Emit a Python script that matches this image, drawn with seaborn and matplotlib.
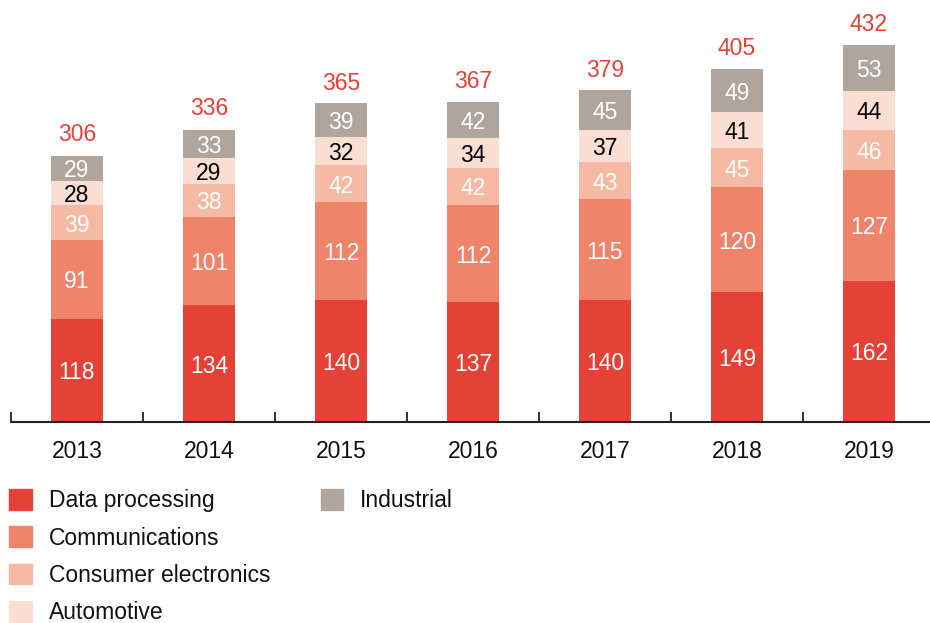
import pandas as pd
import numpy as np
import matplotlib
matplotlib.use("Agg")
import matplotlib.pyplot as plt
import seaborn as sns
from matplotlib.patches import Patch

years = ["2013", "2014", "2015", "2016", "2017", "2018", "2019"]
data_processing = [118, 134, 140, 137, 140, 149, 162]
communications = [91, 101, 112, 112, 115, 120, 127]
consumer = [39, 38, 42, 42, 43, 45, 46]
automotive = [28, 29, 32, 34, 37, 41, 44]
industrial = [29, 33, 39, 42, 45, 49, 53]
totals = [306, 336, 365, 367, 379, 405, 432]

segments = ["Data processing", "Communications", "Consumer electronics", "Automotive", "Industrial"]
colors = ["#E54237", "#EF846B", "#F6BAA4", "#FBDED3", "#AFA59C"]
text_colors = ["white", "white", "white", "black", "white"]

df = pd.DataFrame({"year": years,
                   "Data processing": data_processing,
                   "Communications": communications,
                   "Consumer electronics": consumer,
                   "Automotive": automotive,
                   "Industrial": industrial})
cum = df[segments].cumsum(axis=1)

sns.set_style("white")
plt.rcParams["font.family"] = ["Liberation Sans", "DejaVu Sans"]
plt.rcParams["text.color"] = "#111111"

fs = 16.5

fig = plt.figure(figsize=(9.3, 6.23), dpi=100)
ax = fig.add_axes([11 / 930, 1 - 422 / 623, 924 / 930, 422 / 623])

# draw from tallest cumulative sum down so lower segments sit on top
for seg, col in reversed(list(zip(segments, colors))):
    sns.barplot(x=df["year"], y=cum[seg], color=col, width=0.4, ax=ax,
                saturation=1, linewidth=0, edgecolor="none", zorder=2)

for i in range(len(years)):
    bottom = 0
    for seg, tc in zip(segments, text_colors):
        v = df[seg][i]
        ax.text(i, bottom + v / 2, str(v), ha="center", va="center_baseline",
                color=tc, fontsize=fs)
        bottom += v
    ax.text(i, totals[i] + 10, str(totals[i]), ha="center", va="bottom",
            color="#E54237", fontsize=fs)

ax.set_xlim(-0.5, 6.5)
ax.set_ylim(0, 422 / 0.873)
ax.set_xlabel("")
ax.set_ylabel("")
ax.set_yticks([])
for s in ["left", "right", "top"]:
    ax.spines[s].set_visible(False)
ax.spines["bottom"].set_linewidth(1.5)
ax.spines["bottom"].set_color("#222222")
ax.set_xticks(np.arange(-0.5, 7, 1), minor=True)
ax.tick_params(axis="x", which="minor", bottom=True, direction="in", length=7,
               width=1.3, color="#222222")
ax.tick_params(axis="x", which="major", bottom=True, length=0, pad=13,
               labelsize=fs, labelcolor="#111111")

handles = [Patch(color=c) for c in colors[:4]] + [Patch(color=colors[4])] + \
          [Patch(color="none") for _ in range(3)]
labels = segments[:4] + [segments[4]] + ["", "", ""]
fig.legend(handles, labels, ncol=2, loc="upper left",
           bbox_to_anchor=(0.0, 1 - 480 / 623), frameon=False, fontsize=fs,
           handlelength=1.0, handleheight=1.0, handletextpad=0.72,
           labelspacing=0.62, columnspacing=2.2, borderaxespad=0, borderpad=0.4)

fig.savefig("out.png", dpi=100)
